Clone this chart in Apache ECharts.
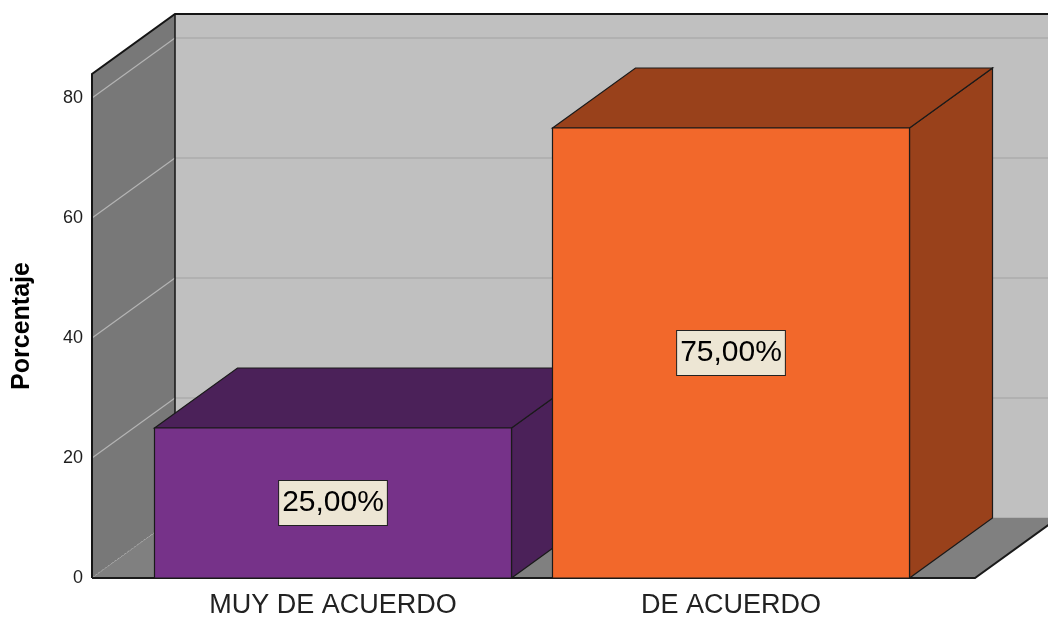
<!DOCTYPE html>
<html>
<head>
<meta charset="utf-8">
<script src="https://cdn.jsdelivr.net/npm/echarts@6/dist/echarts.min.js"></script>
<style>html,body{margin:0;padding:0;background:#fff;}#chart{width:1048px;height:618px;}</style>
</head>
<body>
<div id="chart"></div>
<script>
// ---- data ----
const categories = ['MUY DE ACUERDO', 'DE ACUERDO'];
const percentages = [25, 75];
const yTicks = [0, 20, 40, 60, 80];
const yAxisName = 'Porcentaje';

// ---- styling ----
const Y_MAX = 84;
const DX = 83, DY = -60;          // depth offset of the 3D box
const LEFT_EXT = 42, RIGHT_EXT = 45;
const frontColors = ['#763289', '#f2682b'];
const sideColors = ['#4b2159', '#99411b'];
const FONT = '"Liberation Sans", Arial, sans-serif';

const chart = echarts.init(document.getElementById('chart'), null, {renderer: 'canvas'});

function renderWalls(params, api) {
  const cs = params.coordSys;
  const yb = api.coord([0, 0])[1];
  const yt = api.coord([0, Y_MAX])[1];
  const xl = cs.x - LEFT_EXT;
  const xr = cs.x + cs.width + RIGHT_EXT;
  const bx = xl + DX;
  const far = 3000;
  const ch = [];
  ch.push({type: 'rect', shape: {x: bx, y: yt + DY, width: far, height: yb - yt}, style: {fill: '#c0c0c0'}});
  yTicks.forEach(v => {
    const y = api.coord([0, v])[1] + DY;
    ch.push({type: 'line', shape: {x1: bx, y1: y, x2: far, y2: y}, style: {stroke: '#acacac', lineWidth: 1.5}});
  });
  ch.push({type: 'polygon', shape: {points: [[xl, yb], [xl, yt], [bx, yt + DY], [bx, yb + DY]]}, style: {fill: '#787878'}});
  yTicks.forEach(v => {
    const y = api.coord([0, v])[1];
    ch.push({type: 'line', shape: {x1: xl, y1: y, x2: bx, y2: y + DY},
      style: {stroke: '#b4b4b4', lineWidth: 1.2, lineDash: v === 0 ? [2, 2] : null}});
  });
  ch.push({type: 'polygon', shape: {points: [[xl, yb], [xr, yb], [xr + DX, yb + DY], [bx, yb + DY]]}, style: {fill: '#808080'}});
  ch.push({type: 'polyline', shape: {points: [[xl, yb], [xl, yt], [bx, yt + DY], [far, yt + DY]]}, style: {stroke: '#151515', lineWidth: 2, fill: null}});
  ch.push({type: 'line', shape: {x1: bx, y1: yt + DY, x2: bx, y2: yb + DY}, style: {stroke: '#151515', lineWidth: 1.5}});
  ch.push({type: 'polyline', shape: {points: [[xl, yb], [xr, yb], [xr + DX, yb + DY]]}, style: {stroke: '#1a1a1a', lineWidth: 2, fill: null}});
  return {type: 'group', children: ch};
}

function fmt(v) { return v.toFixed(2).replace('.', ',') + '%'; }

function renderBars(params, api) {
  const idx = api.value(0);
  const v = api.value(1);
  const p0 = api.coord([idx, 0]);
  const p1 = api.coord([idx, v]);
  const bw = api.size([1, 0])[0] * 0.897;
  const x0 = p0[0] - bw / 2, x1 = p0[0] + bw / 2;
  const yb = p0[1], yt = p1[1];
  const i = params.dataIndex;
  const st = {stroke: '#1a1a1a', lineWidth: 1.2};
  return {type: 'group', children: [
    {type: 'polygon', shape: {points: [[x1, yb], [x1, yt], [x1 + DX, yt + DY], [x1 + DX, yb + DY]]}, style: Object.assign({fill: sideColors[i]}, st)},
    {type: 'polygon', shape: {points: [[x0, yt], [x0 + DX, yt + DY], [x1 + DX, yt + DY], [x1, yt]]}, style: Object.assign({fill: sideColors[i]}, st)},
    {type: 'rect', shape: {x: x0, y: yt, width: bw, height: yb - yt}, style: Object.assign({fill: frontColors[i]}, st)},
    {type: 'text', x: (x0 + x1) / 2, y: (yt + yb) / 2, style: {
      text: fmt(v), align: 'center', verticalAlign: 'middle', font: '30px ' + FONT, fill: '#000',
      backgroundColor: '#ede6d4', borderColor: '#222', borderWidth: 1, padding: [8, 3, 6, 3]}}
  ]};
}

chart.setOption({
  animation: false,
  backgroundColor: '#fff',
  grid: {left: 134, right: 118, top: 74, bottom: 40, containLabel: false, outerBoundsMode: 'none'},
  xAxis: {
    type: 'category', data: categories,
    axisLine: {show: false}, axisTick: {show: false}, splitLine: {show: false},
    axisLabel: {fontSize: 27, color: '#222', margin: 14, fontFamily: FONT}
  },
  yAxis: {
    type: 'value', min: 0, max: Y_MAX, interval: 20, offset: 42,
    axisLine: {show: false}, axisTick: {show: false}, splitLine: {show: false},
    axisLabel: {fontSize: 18, color: '#1e1e1e', margin: 9, showMaxLabel: false, fontFamily: FONT, padding: [8, 0, 0, 0]},
    name: yAxisName, nameLocation: 'middle', nameGap: 57,
    nameTextStyle: {fontSize: 25, fontWeight: 'bold', color: '#000', fontFamily: FONT}
  },
  series: [
    {type: 'custom', z: 1, renderItem: renderWalls, data: [[0, 0]], silent: true},
    {type: 'custom', z: 2, renderItem: renderBars, data: percentages.map((v, i) => [i, v])}
  ]
});
</script>
</body>
</html>
